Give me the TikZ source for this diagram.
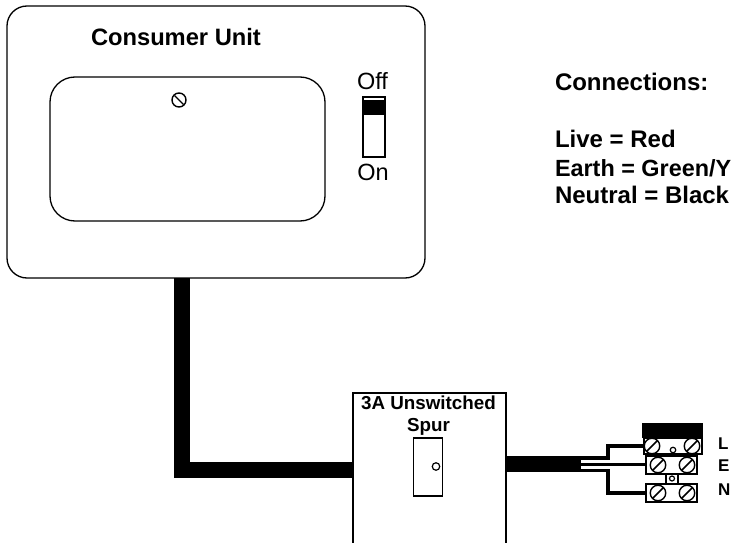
\documentclass[tikz,border=0pt]{standalone}
\usepackage{fontspec}
\setmainfont{Liberation Sans}
\usetikzlibrary{calc}
\tikzset{
  x=1pt,y=-1pt,
  outline/.style={draw=black,line width=1.3pt,fill=white,inner sep=0pt,outer sep=0pt},
  panel/.style={outline,rounded corners=#1},
  cablethick/.style={draw=black,line width=16pt,line join=miter},
  wirethin/.style={draw=black,line width=3.4pt,line join=miter},
  screwhead/.style={circle,draw=black,line width=1.4pt,fill=white,minimum size=#1,inner sep=0pt,outer sep=0pt},
  title/.style={font=\fontsize{23.7}{28}\selectfont\bfseries,anchor=base west,inner sep=0pt,outer sep=0pt},
  legend/.style={font=\fontsize{24}{28}\selectfont\bfseries,anchor=base west,inner sep=0pt,outer sep=0pt},
  legendtight/.style={font=\fontsize{23.4}{28}\selectfont\bfseries,anchor=base west,inner sep=0pt,outer sep=0pt},
  plain/.style={font=\fontsize{23.5}{28}\selectfont,anchor=base,inner sep=0pt,outer sep=0pt},
  termlabel/.style={font=\fontsize{17}{20}\selectfont\bfseries,anchor=base west,inner sep=0pt,outer sep=0pt},
  spurtext/.style={font=\fontsize{18.8}{22}\selectfont\bfseries,anchor=base,inner sep=0pt,outer sep=0pt},
  hole/.style={circle,draw=black,line width=1.2pt,inner sep=0pt},
}
\newcommand{\slotline}[1]{\draw[line width=1.6pt] ($(#1)+(-5.5,5.5)$) -- ($(#1)+(5.5,-5.5)$);}
\begin{document}
\begin{tikzpicture}
\useasboundingbox (0,0) rectangle (732,543);
\clip (0,0) rectangle (732,543);
% consumer unit
\node[panel=20pt,minimum width=418pt,minimum height=272pt] (cu) at (216,142) {};
\node[panel=25pt,minimum width=275pt,minimum height=144pt] (window) at (187.5,149) {};
\node[title] (cutitle) at (91,46) {Consumer Unit};
\node[screwhead=14pt] (cuscrew) at (179,100) {};
\draw[line width=1.3pt] ($(cuscrew)+(-4.5,-4.5)$) -- ($(cuscrew)+(4.5,4.5)$);
% switch
\node[outline,minimum width=22pt,minimum height=60pt] (sw) at (374,127) {};
\node[fill=black,minimum width=22pt,minimum height=15pt,inner sep=0pt] (swblack) at (374,108) {};
\node[plain] (off) at (372.5,90) {Off};
\node[plain] (on) at (373,180) {On};
% legend
\node[legend] (conn) at (555,91) {Connections:};
\node[legend] (l1) at (555,147) {Live = Red};
\node[legendtight] (l2) at (555,176) {Earth = Green/Y};
\node[legend] (l3) at (555,204) {Neutral = Black};
% spur box
\node[outline,minimum width=153pt,minimum height=170pt] (spur) at (429.5,478) {};
\node[spurtext] (spurtitle) at (428.5,409.5) {3A Unswitched};
\node[spurtext] (spurtitleb) at (428.5,431.5) {Spur};
\node[outline,minimum width=29.5pt,minimum height=58pt] (plate) at (428,467) {};
\node[hole,minimum width=6pt,minimum height=7.5pt] (platehole) at (436,466.5) {};
% main cable
\coordinate (cabletop) at (182,278);
\coordinate (cablespur) at (353,470);
\draw[cablethick] (cabletop) |- (cablespur);
% terminal block
\node[outline,minimum width=58pt,minimum height=16pt] (tl) at (673,446) {};
\node[fill=black,minimum width=61pt,minimum height=15pt,inner sep=0pt] (cap) at (672.5,430.5) {};
\node[outline,minimum width=51pt,minimum height=18pt] (te) at (671.5,465) {};
\node[outline,minimum width=12pt,minimum height=10pt] (link) at (672,479) {};
\node[outline,minimum width=51pt,minimum height=18pt] (tn) at (671.5,493) {};
\node[hole,minimum width=4pt,minimum height=5.5pt] (lhole) at (673,450) {};
\node[hole,minimum size=5pt] (linkhole) at (672,478.5) {};
\foreach \n/\x/\y in {a/652/446,b/692/446,c/658/465,d/687/465,e/658/493,f/687/493}{
  \node[screwhead=15.5pt] (s\n) at (\x,\y) {};
  \slotline{s\n}
}
\node[termlabel] (lbl) at (718,449) {L};
\node[termlabel] (lbe) at (718,471) {E};
\node[termlabel] (lbn) at (718,495) {N};
% wires
\coordinate (cableend) at (581,464);
\coordinate (wl) at (581,458);
\coordinate (we) at (581,464.5);
\coordinate (wn) at (581,470.5);
\coordinate (bendl) at (608,458);
\coordinate (bendn) at (608,470.5);
\draw[wirethin] (wl) -- (bendl) |- (tl.west);
\draw[wirethin] (we) -- (te.west |- we);
\draw[wirethin] (wn) -- (bendn) |- (tn.west);
\draw[cablethick] (spur.east |- cableend) -- (cableend);
\end{tikzpicture}
\end{document}
